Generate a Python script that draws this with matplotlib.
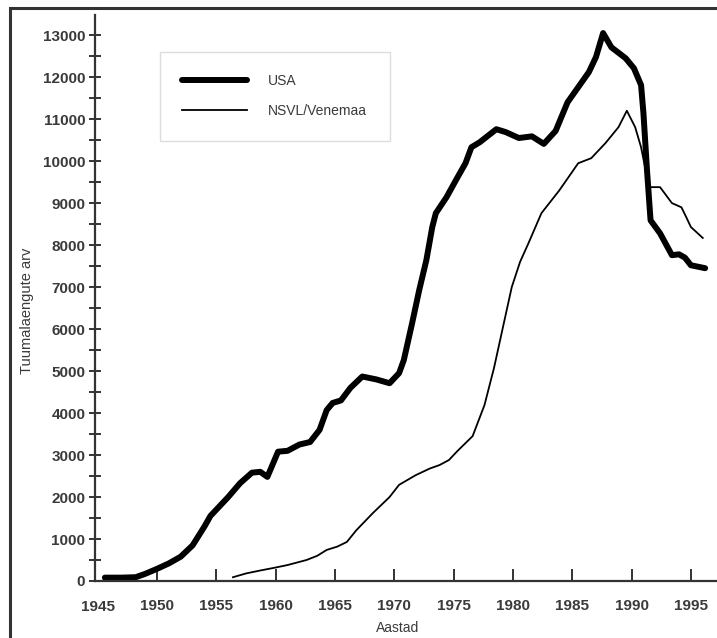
import matplotlib
matplotlib.use("Agg")
import matplotlib.pyplot as plt
from matplotlib.patches import Rectangle

plt.rcParams['font.family'] = ['Liberation Sans', 'DejaVu Sans']

# USA
usa_years = [1945.6, 1946, 1947, 1948.2, 1949, 1950, 1951, 1952, 1953, 1954, 1954.5,
             1955, 1956, 1957, 1958, 1958.7, 1959.3, 1960.2, 1961, 1962, 1962.9, 1963.7,
             1964.3, 1964.8, 1965.5, 1966.3, 1967.3, 1968.5, 1969.6, 1970.4, 1970.8,
             1971.5, 1972.1, 1972.7, 1973.2, 1973.5, 1974.4, 1975.2, 1976.0, 1976.5,
             1977.2, 1978.6, 1979.4, 1980.5, 1981.6, 1982.6, 1983.6, 1984.6, 1985.5,
             1986.4, 1987.0, 1987.6, 1988.3, 1989.5, 1990.2, 1990.8, 1991.0, 1991.3,
             1991.6, 1992.4, 1993.4, 1994.0, 1994.5, 1995.0, 1996.2]
usa_vals = [80, 80, 80, 90, 170, 290, 420, 580, 850, 1300, 1550,
            1700, 2000, 2330, 2580, 2600, 2480, 3080, 3100, 3250, 3310, 3600,
            4070, 4240, 4300, 4600, 4870, 4800, 4710, 4950, 5260,
            6140, 6930, 7640, 8430, 8760, 9140, 9550, 9950, 10330,
            10450, 10760, 10690, 10550, 10590, 10410, 10720, 11400, 11760,
            12120, 12480, 13050, 12710, 12450, 12210, 11810, 11140, 9780,
            8590, 8280, 7760, 7780, 7700, 7520, 7450]

# NSVL / Venemaa
sov_years = [1956.4, 1957.5, 1958.7, 1959.8, 1961, 1962.6, 1963.5, 1964.3, 1965.2, 1966.0,
             1966.8, 1968.2, 1969.6, 1970.4, 1971.8, 1973, 1973.8, 1974.6, 1975.3, 1976.6,
             1977.6, 1978.4, 1979.2, 1979.9, 1980.6, 1981.3, 1982.4, 1983.9, 1985.5, 1986.6,
             1987.8, 1988.9, 1989.6, 1990.3, 1990.8, 1991.3, 1991.4, 1992.4, 1993.4, 1994.2,
             1994.6, 1995.0, 1996.0]
sov_vals = [90, 180, 250, 310, 380, 500, 600, 740, 820, 930,
            1210, 1620, 2000, 2290, 2520, 2680, 2760, 2880, 3090, 3450,
            4190, 5070, 6100, 7000, 7600, 8040, 8760, 9300, 9950, 10070,
            10430, 10810, 11200, 10810, 10330, 9620, 9380, 9380, 9000, 8900,
            8670, 8430, 8170]

x_ticks = list(range(1950, 2000, 5))
x_tick_labels = [str(y) for y in range(1945, 2000, 5)]
y_major = list(range(0, 14000, 1000))

txt_col = '#3a3a3a'

fig = plt.figure(figsize=(7.17, 6.38), dpi=100)
ax = fig.add_axes([95 / 717, 1 - 581 / 638, 622 / 717, 566 / 638])

# outer frame (left and top only visible)
fig.patches.append(Rectangle((10 / 717, -0.1), 1.2, 1 - 8 / 638 + 0.1,
                             transform=fig.transFigure, fill=False,
                             edgecolor='#333333', linewidth=2.2))

ax.plot(usa_years, usa_vals, color='black', linewidth=4.3, label='USA',
        solid_joinstyle='round', solid_capstyle='round')
ax.plot(sov_years, sov_vals, color='black', linewidth=1.3, label='NSVL/Venemaa')

ax.set_xlim(1944.77, 1997.2)
ax.set_ylim(0, 13480)

for s in ['top', 'right']:
    ax.spines[s].set_visible(False)
for s in ['left', 'bottom']:
    ax.spines[s].set_color('#333333')
    ax.spines[s].set_linewidth(1.6)

ax.set_xticks(x_ticks)
ax.set_xticklabels(x_tick_labels[1:])
ax.tick_params(axis='x', direction='in', length=9, width=1.4, color='#333333',
               pad=13, labelsize=11, labelcolor=txt_col)
# 1945 label sits at the spine without a tick
ax.text(1945, -0.046, '1945', transform=ax.get_xaxis_transform(), ha='center',
        va='center', fontsize=11, fontweight='bold', color=txt_col)

ax.set_yticks(y_major)
ax.set_yticks(list(range(500, 13500, 1000)), minor=True)
ax.tick_params(axis='y', which='both', direction='inout', length=8, width=1.4,
               color='#333333', pad=3, labelsize=11, labelcolor=txt_col)
for lab in ax.get_xticklabels() + ax.get_yticklabels():
    lab.set_fontweight('bold')

ax.set_xlabel('Aastad', fontsize=10, color=txt_col, va='center')
ax.xaxis.set_label_coords(0.487, -0.083)
ax.set_ylabel('Tuumalaengute arv', fontsize=10.5, color=txt_col, va='center', ha='center')
ax.yaxis.set_label_coords(-0.11, 0.477)

leg = ax.legend(loc='upper left', bbox_to_anchor=(0.1045, 0.9346), fontsize=10,
                handlelength=4.7, handletextpad=1.5, labelspacing=1.16,
                borderpad=1.6, borderaxespad=0, fancybox=False, framealpha=1)
leg.get_frame().set_edgecolor('#dddddd')
leg.get_frame().set_linewidth(1.0)
for t in leg.get_texts():
    t.set_color(txt_col)

fig.savefig('out.png', dpi=100)
